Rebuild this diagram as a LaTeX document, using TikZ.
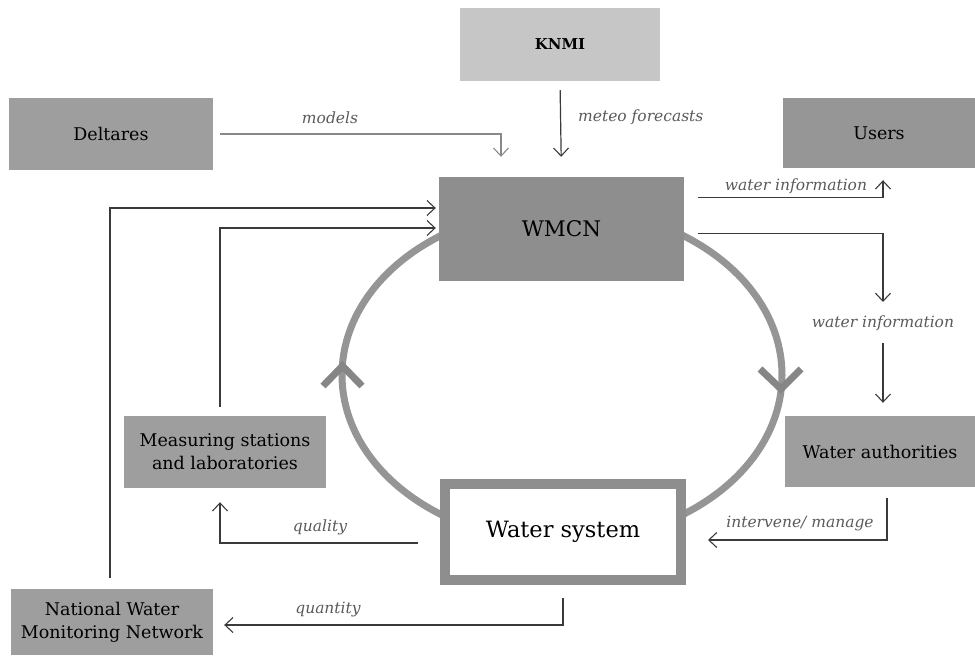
\documentclass[tikz,border=0pt]{standalone}
\usepackage{fontspec}
\setmainfont{DejaVu Serif}
\usetikzlibrary{arrows.meta,calc,backgrounds}
\definecolor{boxgray}{HTML}{9E9E9E}
\definecolor{lightbox}{HTML}{C6C6C6}
\definecolor{darkbox}{HTML}{8E8E8E}
\definecolor{ringgray}{HTML}{959595}
\definecolor{linecol}{HTML}{3A3A3A}
\definecolor{labcol}{HTML}{5A5A5A}
\tikzset{
  box/.style={rectangle, fill=boxgray, inner sep=0pt, align=center,
    font=\fontsize{17.5}{23}\selectfont},
  conn/.style={draw=linecol, line width=1.2pt,
    -{Straight Barb[length=8pt,width=15pt,line width=1.1pt]}},
  lab/.style={font=\fontsize{15.5}{17}\selectfont\itshape, text=labcol, inner sep=0pt},
  ring/.style={draw=ringgray, line width=7pt},
  chev/.style={draw=ringgray!90!black, line width=7pt, line join=miter}
}
\begin{document}
\begin{tikzpicture}[x=1pt,y=-1pt]
\useasboundingbox (0,0) rectangle (975,659);
% boxes
\node[box, fill=lightbox, minimum width=200pt, minimum height=73pt,
  font=\fontsize{15}{18}\selectfont\bfseries] (knmi) at (560,44.5) {KNMI};
\node[box, minimum width=204pt, minimum height=72pt] (deltares) at (111,134) {Deltares};
\node[box, fill=boxgray!95!black, minimum width=192pt, minimum height=70pt] (users) at (879,133) {Users};
\node[box, fill=darkbox, minimum width=245pt, minimum height=104pt,
  font=\fontsize{21.5}{24}\selectfont] (wmcn) at (561.5,229) {WMCN};
\node[box, minimum width=202pt, minimum height=72pt] (meas) at (225,452) {Measuring stations\\and laboratories};
\node[box, minimum width=190pt, minimum height=71pt] (wauth) at (880,451.5) {Water authorities};
\node[rectangle, draw=darkbox, line width=10pt, fill=white, minimum width=236pt,
  minimum height=96pt, inner sep=0pt, font=\fontsize{22.5}{26}\selectfont] (ws) at (563,532) {Water system};
\node[box, minimum width=202pt, minimum height=66pt] (natl) at (112,622) {National Water\\Monitoring Network};
% cycle ring behind the boxes
\coordinate (cyc) at (562,375);
\begin{pgfonlayer}{background}
  \draw[ring] (cyc) ellipse [x radius=220, y radius=167];
\end{pgfonlayer}
\draw[chev] (323,386) -- (342.5,366) -- (362,386);
\draw[chev] (760,369) -- (781,389) -- (801,369);
% labels
\node[lab] (lmodels) at (330,118) {models};
\node[lab, anchor=west] (lmeteo) at (578,117) {meteo forecasts};
\node[lab] (lwi1) at (796,186) {water information};
\node[lab] (lwi2) at (883,323) {water information};
\node[lab] (lint) at (800,524) {intervene/ manage};
\node[lab] (lqual) at (320,527) {quality};
\node[lab] (lquan) at (328,610) {quantity};
% connectors
\draw[conn, shorten <=9pt, shorten >=20pt] (knmi.south) -- (wmcn.north);
\draw[conn, draw=linecol!60] ($(deltares.east)+(7,0)$) -| ($(wmcn.north)+(-60.5,-20)$);
\draw[conn] ($(wmcn.north east)+(14,21)$) -| ($(users.south)+(4,12)$);
\draw[conn] ($(wmcn.north east)+(14,57)$) -| ($(lwi2.center)+(0,-21)$);
\draw[conn] ($(lwi2.center)+(0,20)$) -- ($(wauth.north)+(3,-13)$);
\draw[conn] ($(wauth.south)+(7,11)$) |- ($(ws.east)+(22,8)$);
\draw[conn] ($(ws.west)+(-22,11)$) -| ($(meas.south)+(-5,14)$);
\draw[conn] ($(ws.south)+(0,13)$) |- ($(natl.east)+(11,3)$);
\draw[conn] ($(natl.north)+(-2,-11)$) |- ($(wmcn.west)+(-3,-21)$);
\draw[conn] ($(meas.north)+(-5,-9)$) |- ($(wmcn.west)+(-3,-1)$);
\end{tikzpicture}
\end{document}
